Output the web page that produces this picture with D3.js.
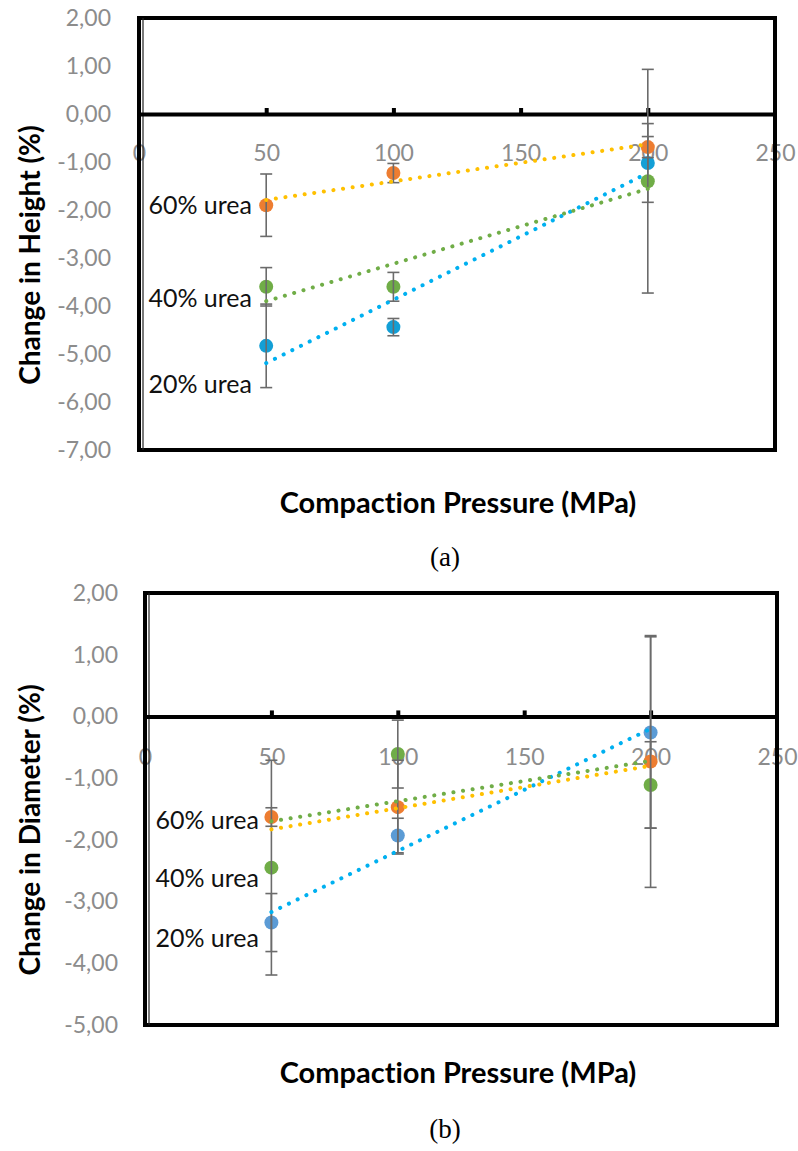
<!DOCTYPE html>
<html>
<head>
<meta charset="utf-8">
<script src="https://cdn.jsdelivr.net/npm/d3@7"></script>
<style>
  body { margin: 0; background: #fff; }
  svg { display: block; }
  text { font-variant-ligatures: none; }
</style>
</head>
<body>
<div id="chart"></div>
<script>
// ---- data ----
const pressure = [50, 100, 200];
const seriesNames = ["20% urea", "40% urea", "60% urea"];

// (a) change in height (%)
const heightU20 = [-4.83, -4.44, -1.02];
const heightU40 = [-3.60, -3.60, -1.40];
const heightU60 = [-1.90, -1.23, -0.69];
const heightErr20 = [0.87, 0.18, 0.82];
const heightErr40 = [0.40, 0.30, 2.33];
const heightErr60 = [0.65, 0.20, 0.22];
// trendline ends at 50 and 200 MPa
const heightTrend20 = [-5.19, -1.23];
const heightTrend40 = [-3.90, -1.56];
const heightTrend60 = [-1.79, -0.63];

// (b) change in diameter (%)
const diamU20 = [-3.34, -1.93, -0.26];
const diamU40 = [-2.45, -0.61, -1.11];
const diamU60 = [-1.63, -1.47, -0.73];
const diamErr20 = [0.47, 0.28, 1.55];
const diamErr40 = [1.74, 0.55, 0.70];
const diamErr60 = [0.15, 0.76, 2.04];
const diamTrend20 = [-3.17, -0.20];
const diamTrend40 = [-1.70, -0.72];
const diamTrend60 = [-1.83, -0.80];

const xTicks = [0, 50, 100, 150, 200, 250];
const yTicksA = [2, 1, 0, -1, -2, -3, -4, -5, -6, -7];
const yTicksB = [2, 1, 0, -1, -2, -3, -4, -5];

const locale = d3.formatLocale({decimal: ",", thousands: ".", grouping: [3], currency: ["", ""], minus: "-"});
const fmt = locale.format(".2f");

const W = 798, H = 1151;
const svg = d3.select("#chart").append("svg")
    .attr("width", W)
    .attr("height", H);

function drawPanel(p) {
    let x = d3.scaleLinear().domain([0, 250]).range([p.left, p.right]);
    let y = d3.scaleLinear().domain(p.yDomain).range([p.bottom, p.top]);
    let g = svg.append("g");

    // y tick labels
    g.append("g")
        .attr("transform", "translate(" + p.yLabelX + ",0)")
        .call(d3.axisLeft(y).tickValues(p.yTicks).tickSize(0).tickPadding(0).tickFormat(fmt))
        .call(a => a.select(".domain").remove())
        .selectAll("text")
        .attr("fill", "#8c8c8c")
        .style("font-family", "Lato, 'Open Sans', sans-serif")
        .style("font-size", "23px");

    // x tick labels (below the zero line)
    g.append("g")
        .attr("transform", "translate(0," + p.xLabelY + ")")
        .call(d3.axisBottom(x).tickValues(xTicks).tickSize(0).tickPadding(0).tickFormat(d3.format("d")))
        .call(a => a.select(".domain").remove())
        .selectAll("text")
        .attr("fill", "#8c8c8c")
        .attr("dy", "0.35em")
        .style("font-family", "Lato, 'Open Sans', sans-serif")
        .style("font-size", "23px");

    // plot box
    g.append("rect")
        .attr("x", p.left).attr("y", p.top)
        .attr("width", p.right - p.left).attr("height", p.bottom - p.top)
        .attr("fill", "none").attr("stroke", "#000").attr("stroke-width", 4);
    g.append("line")
        .attr("x1", p.left + 4).attr("x2", p.left + 4)
        .attr("y1", p.top).attr("y2", p.bottom)
        .attr("stroke", "#222").attr("stroke-width", 1.2);

    // zero line with small upward ticks
    g.append("g")
        .attr("transform", "translate(0," + y(0) + ")")
        .call(d3.axisTop(x).tickValues([50, 100, 150, 200]).tickSize(6).tickSizeOuter(0).tickFormat(""))
        .call(a => a.select(".domain").attr("stroke", "#000").attr("stroke-width", 4))
        .call(a => a.selectAll(".tick line").attr("stroke", "#000").attr("stroke-width", 4));

    // markers and error bars per series
    p.series.forEach(function(s) {
        let pts = pressure.map((px, i) => ({x: px, v: s.values[i], e: s.err[i]}));

        g.selectAll(null).data(pts).enter().append("circle")
            .attr("cx", d => x(d.x))
            .attr("cy", d => y(d.v))
            .attr("r", 7)
            .attr("fill", s.marker);

        let eb = g.selectAll(null).data(pts).enter().append("g")
            .attr("stroke", "#6b6b6b").attr("stroke-width", 1.6);
        eb.append("line")
            .attr("x1", d => x(d.x)).attr("x2", d => x(d.x))
            .attr("y1", d => y(d.v + d.e)).attr("y2", d => y(d.v - d.e));
        eb.append("line")
            .attr("x1", d => x(d.x) - 6).attr("x2", d => x(d.x) + 6)
            .attr("y1", d => y(d.v + d.e)).attr("y2", d => y(d.v + d.e));
        eb.append("line")
            .attr("x1", d => x(d.x) - 6).attr("x2", d => x(d.x) + 6)
            .attr("y1", d => y(d.v - d.e)).attr("y2", d => y(d.v - d.e));
    });

    // dotted linear trendlines
    p.series.forEach(function(s) {
        let tr = [{x: pressure[0], v: s.trend[0]}, {x: pressure[2], v: s.trend[1]}];
        g.append("path")
            .datum(tr)
            .attr("d", d3.line().x(d => x(d.x)).y(d => y(d.v)))
            .attr("fill", "none")
            .attr("stroke", s.trendColor)
            .attr("stroke-width", 4)
            .attr("stroke-linecap", "round")
            .attr("stroke-dasharray", "0.1 9.6");
    });

    // series labels
    p.series.forEach(function(s) {
        g.append("text")
            .attr("x", p.labelX)
            .attr("y", s.labelY)
            .attr("dy", "0.35em")
            .attr("text-anchor", "end")
            .style("font-family", "Lato, 'Open Sans', sans-serif")
            .style("font-size", "25px")
            .attr("fill", "#111")
            .text(s.name);
    });

    // axis titles
    g.append("text")
        .attr("transform", "translate(" + p.yTitleX + "," + p.yTitleY + ") rotate(-90)")
        .attr("text-anchor", "middle")
        .style("font-family", "Lato, 'Open Sans', sans-serif")
        .style("font-weight", "bold")
        .style("font-size", "28px")
        .text(p.yTitle);

    g.append("text")
        .attr("x", 458)
        .attr("y", p.xTitleY)
        .attr("text-anchor", "middle")
        .style("font-family", "Lato, 'Open Sans', sans-serif")
        .style("font-weight", "bold")
        .style("font-size", "29px")
        .text("Compaction Pressure (MPa)");

    g.append("text")
        .attr("x", 445)
        .attr("y", p.capY)
        .attr("text-anchor", "middle")
        .style("font-family", "'Liberation Serif', 'Times New Roman', serif")
        .style("font-size", "27px")
        .text(p.caption);
}

drawPanel({
    left: 139, right: 775, top: 18, bottom: 450,
    yDomain: [-7, 2], yTicks: yTicksA,
    yLabelX: 111, xLabelY: 153, labelX: 252,
    yTitle: "Change in Height (%)", yTitleX: 40, yTitleY: 255,
    xTitleY: 513, caption: "(a)", capY: 566,
    series: [
        {name: seriesNames[0], values: heightU20, err: heightErr20, trend: heightTrend20, marker: "#139fd6", trendColor: "#00b0f0", labelY: 384},
        {name: seriesNames[1], values: heightU40, err: heightErr40, trend: heightTrend40, marker: "#70ad47", trendColor: "#70ad47", labelY: 298},
        {name: seriesNames[2], values: heightU60, err: heightErr60, trend: heightTrend60, marker: "#ed7d31", trendColor: "#ffc000", labelY: 205}
    ]
});

drawPanel({
    left: 145, right: 777, top: 593, bottom: 1025,
    yDomain: [-5, 2], yTicks: yTicksB,
    yLabelX: 118, xLabelY: 757, labelX: 259,
    yTitle: "Change in Diameter (%)", yTitleX: 40, yTitleY: 830,
    xTitleY: 1083, caption: "(b)", capY: 1138,
    series: [
        {name: seriesNames[0], values: diamU20, err: diamErr20, trend: diamTrend20, marker: "#5b9bd5", trendColor: "#00b0f0", labelY: 938},
        {name: seriesNames[1], values: diamU40, err: diamErr40, trend: diamTrend40, marker: "#70ad47", trendColor: "#70ad47", labelY: 878},
        {name: seriesNames[2], values: diamU60, err: diamErr60, trend: diamTrend60, marker: "#ed7d31", trendColor: "#ffc000", labelY: 820}
    ]
});
</script>
</body>
</html>
